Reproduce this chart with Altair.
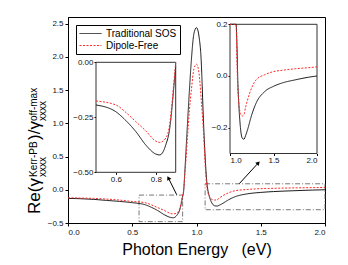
import altair as alt
import pandas as pd

# ---------------- data ----------------
energy = [0.0, 0.1, 0.2, 0.3, 0.4, 0.5, 0.6, 0.65, 0.7, 0.75, 0.8, 0.82, 0.85, 0.87,
          0.88, 0.89, 0.9, 0.91, 0.92, 0.93, 0.945, 0.96, 0.98, 1.0, 1.02, 1.035,
          1.055, 1.07, 1.08, 1.09, 1.1, 1.12, 1.14, 1.16, 1.18, 1.2, 1.25, 1.3,
          1.4, 1.5, 1.6, 1.75, 1.9, 2.0]
sos = [-0.13, -0.135, -0.145, -0.16, -0.175, -0.194, -0.225, -0.265, -0.315, -0.376,
       -0.417, -0.421, -0.376, -0.3, -0.22, -0.12, -0.02, 0.3, 0.65, 1.0, 1.5, 1.95,
       2.35, 2.44, 2.3, 2.0, 1.0, 0.4, 0.12, -0.02, -0.1, -0.2, -0.24, -0.245, -0.23,
       -0.21, -0.15, -0.105, -0.06, -0.04, -0.027, -0.015, -0.005, 0.0]
dipole_free = [-0.12, -0.125, -0.13, -0.14, -0.155, -0.176, -0.194, -0.228, -0.27, -0.312,
               -0.358, -0.364, -0.345, -0.28, -0.2, -0.1, 0.0, 0.25, 0.5, 0.8, 1.2, 1.5,
               1.82, 1.89, 1.75, 1.4, 0.85, 0.3, 0.05, -0.05, -0.1, -0.145, -0.155, -0.15,
               -0.12, -0.095, -0.045, -0.015, 0.005, 0.017, 0.022, 0.028, 0.032, 0.035]
series_names = ["Traditional SOS", "Dipole-Free"]

# zoom boxes drawn on the main plot
box_x = [0.553, 1.067]
box_x2 = [0.892, 2.0]
box_y = [-0.48, -0.30]
box_y2 = [-0.08, 0.09]

# arrows (start -> end, in main data units)
arrow_x = [0.846, 1.333]
arrow_y = [-0.074, 0.092]
arrow_x2 = [0.781, 1.481]
arrow_y2 = [0.178, 0.404]
arrow_angle = [333, 42.5]

main_x_ticks = [0.0, 0.5, 1.0, 1.5, 2.0]
main_y_ticks = [-0.5, 0.0, 0.5, 1.0, 1.5, 2.0, 2.5]
inset1_x_ticks = [0.6, 0.8]
inset1_y_ticks = [-0.5, -0.25, 0.0]
inset2_x_ticks = [1.0, 1.5, 2.0]
inset2_y_ticks = [-0.2, 0.0, 0.2]

# ---------------- tables ----------------
rows = []
for e, a, b in zip(energy, sos, dipole_free):
    rows.append({"energy": e, "value": a, "series": series_names[0]})
    rows.append({"energy": e, "value": b, "series": series_names[1]})
df = pd.DataFrame(rows)
boxes = pd.DataFrame({"x": box_x, "x2": box_x2, "y": box_y, "y2": box_y2})
arrows = pd.DataFrame({"x": arrow_x, "y": arrow_y, "x2": arrow_x2, "y2": arrow_y2,
                       "angle": arrow_angle})

FONT = "Liberation Sans"
W, H = 257, 206

legend = alt.Legend(title=None, orient="none", legendX=8, legendY=8,
                    strokeColor="black", fillColor="white", padding=3,
                    symbolType="M-2.2,0H2.2", symbolSize=100, symbolStrokeWidth=1,
                    labelFontSize=10, labelFont=FONT, labelColor="black",
                    rowPadding=1, labelLimit=300, symbolOffset=6, labelOffset=10)


def color_enc():
    return alt.Color("series:N", scale=alt.Scale(domain=series_names,
                                                 range=["#1a1a1a", "#ff2a2a"]),
                     legend=legend)


def dash_enc():
    return alt.StrokeDash("series:N", scale=alt.Scale(domain=series_names,
                                                      range=[[1, 0], [2, 1.5]]),
                          legend=legend)


# ---------------- main plot ----------------
main_xaxis = alt.Axis(values=main_x_ticks, format=".1f",
                      title="Photon Energy\u00a0\u00a0\u00a0(eV)",
                      titleFontSize=16, titleFontWeight="normal", titlePadding=5,
                      labelFontSize=8, tickSize=3, labelPadding=2)
main_yaxis = alt.Axis(values=main_y_ticks, format=".1f", title=None,
                      labelFontSize=8, tickSize=3, labelPadding=2)
mxs = alt.Scale(domain=[0, 2], nice=False)
mys = alt.Scale(domain=[-0.5, 2.6], nice=False)


def mx(f):
    return alt.X(f, type="quantitative", scale=mxs, axis=main_xaxis)


def my(f):
    return alt.Y(f, type="quantitative", scale=mys, axis=main_yaxis)


main_lines = alt.Chart(df).mark_line(strokeWidth=1, interpolate="monotone").encode(
    x=mx("energy"), y=my("value"), color=color_enc(), strokeDash=dash_enc(),
    order=alt.Order("energy:Q"))

box_marks = alt.Chart(boxes).mark_rect(fill=None, stroke="#555555", strokeWidth=0.8,
                                       strokeDash=[5, 2, 1, 2]).encode(
    x=mx("x"), x2="x2", y=my("y"), y2="y2")

arrow_lines = alt.Chart(arrows).mark_rule(color="black", strokeWidth=1).encode(
    x=mx("x"), y=my("y"), x2="x2", y2="y2")
arrow_heads = alt.Chart(arrows).mark_point(shape="triangle-up", filled=True, size=22,
                                           color="black", opacity=1).encode(
    x=mx("x2"), y=my("y2"), angle=alt.Angle("angle:Q", scale=None))

# y-axis title pieces
title_pieces = [
    ("Re(\u03b3", -28, 197, 17),
    ("Kerr-PB", -31, 160, 10),
    ("xxxx", -22.5, 160, 10),
    (")/\u03b3", -28, 123, 17),
    ("off-max", -31, 104, 10),
    ("xxxx", -22.5, 104, 10),
]
title_layers = []
for txt, px, py, fs in title_pieces:
    title_layers.append(
        alt.Chart(pd.DataFrame({"t": [txt]})).mark_text(
            angle=270, align="left", baseline="alphabetic", fontSize=fs, font=FONT,
            color="black").encode(text="t:N", x=alt.value(px), y=alt.value(py)))

main = alt.layer(box_marks, main_lines, arrow_lines, arrow_heads, *title_layers)


# ---------------- insets ----------------
def inset(xdom, ydom, xr, yr, xt, yt, yfmt, filt):
    xa = alt.Axis(values=xt, format=".1f", title=None, orient="bottom",
                  offset=-(H - yr[0]), labelFontSize=8, tickSize=2, labelPadding=1,
                  domain=False)
    ya = alt.Axis(values=yt, format=yfmt, title=None, orient="left", offset=-xr[0],
                  labelFontSize=8, tickSize=2, labelPadding=1, domain=False)
    xs = alt.Scale(domain=xdom, range=xr, nice=False, clamp=True)
    ys = alt.Scale(domain=ydom, range=yr, nice=False, clamp=True)
    frame = pd.DataFrame({"x": [xdom[0]], "x2": [xdom[1]], "y": [ydom[0]], "y2": [ydom[1]]})
    bg = alt.Chart(frame).mark_rect(fill="white", stroke="#333333", strokeWidth=1).encode(
        x=alt.X("x:Q", scale=xs, axis=xa), x2="x2",
        y=alt.Y("y:Q", scale=ys, axis=ya), y2="y2")
    lines = alt.Chart(df).transform_filter(filt).mark_line(
        strokeWidth=1, interpolate="monotone").encode(
        x=alt.X("energy:Q", scale=xs, axis=xa),
        y=alt.Y("value:Q", scale=ys, axis=ya),
        color=color_enc(), strokeDash=dash_enc(), order=alt.Order("energy:Q"))
    return alt.layer(bg, lines)


inset1 = inset([0.5, 0.9], [-0.5, 0.0], [28, 107.7], [155.3, 45.3],
               inset1_x_ticks, inset1_y_ticks, ".2f",
               "datum.energy >= 0.5 && datum.energy <= 0.9")
inset2 = inset([1.0, 2.0], [-0.3, 0.2], [162, 249], [136.5, 7.3],
               inset2_x_ticks, inset2_y_ticks, ".1f",
               "datum.energy >= 1.0")

chart = alt.layer(main, inset1, inset2).resolve_scale(
    x="independent", y="independent"
).properties(
    width=W, height=H,
    padding={"left": 60, "top": 9, "right": 15, "bottom": 36},
    autosize=alt.AutoSizeParams(type="none"),
).configure_view(stroke="black", strokeWidth=1).configure_axis(
    grid=False, domainColor="black", tickColor="black", labelColor="#111111",
    labelFont=FONT, titleFont=FONT, titleColor="black"
).configure_text(font=FONT)

chart.save("out.html", embed_options={"renderer": "svg", "actions": False})
